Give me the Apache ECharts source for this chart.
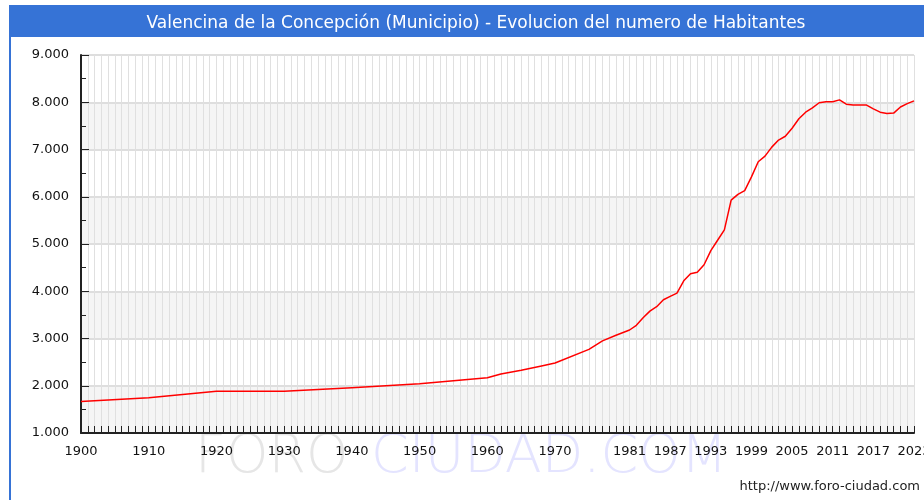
<!DOCTYPE html>
<html>
<head>
<meta charset="utf-8">
<script src="https://cdn.jsdelivr.net/npm/echarts@6/dist/echarts.min.js"></script>
<style>
html,body{margin:0;padding:0;background:#fff;}
#chart{width:924px;height:500px;}
</style>
</head>
<body>
<div id="chart"></div>
<script>
// ---- data ----
var titleText = 'Valencina de la Concepción (Municipio) - Evolucion del numero de Habitantes';
var years = [1900, 1910, 1920, 1930, 1940, 1950, 1960, 1962, 1965, 1968, 1970, 1975, 1977, 1979,
             1981, 1982, 1983, 1984, 1985, 1986, 1987, 1988, 1989, 1990, 1991, 1992, 1993, 1994, 1995,
             1996, 1997, 1998, 1999, 2000, 2001, 2002, 2003, 2004, 2005, 2006, 2007, 2008, 2009, 2010,
             2011, 2012, 2013, 2014, 2015, 2016, 2017, 2018, 2019, 2020, 2021, 2022, 2023];
var population = [1665, 1745, 1885, 1885, 1960, 2040, 2170, 2250, 2330, 2420, 2480, 2770, 2950, 3070,
             3180, 3280, 3440, 3580, 3674, 3820, 3890, 3960, 4220, 4370, 4400, 4560, 4860, 5080, 5300,
             5930, 6050, 6130, 6420, 6740, 6860, 7050, 7200, 7280, 7450, 7650, 7790, 7880, 7990, 8010,
             8010, 8050, 7960, 7940, 7940, 7940, 7860, 7790, 7760, 7770, 7900, 7970, 8030];
var xLabelYears = [1900, 1910, 1920, 1930, 1940, 1950, 1960, 1970, 1981, 1987, 1993, 1999, 2005, 2011, 2017, 2023];
var yMin = 1000, yMax = 9000, yStep = 1000;
var watermarkA = 'FORO';
var watermarkB = 'CIUDAD.COM';
var sourceText = 'http://www.foro-ciudad.com';

var seriesData = years.map(function (y, i) { return [y, population[i]]; });

function fmtThousands(v) {
  var s = String(Math.round(v));
  return s.replace(/\B(?=(\d{3})+(?!\d))/g, '.');
}

var chart = echarts.init(document.getElementById('chart'), null, {renderer: 'canvas'});
var FONT = 'DejaVu Sans';

chart.setOption({
  animation: false,
  backgroundColor: '#ffffff',
  title: {
    text: titleText,
    left: 471,
    top: 10,
    textAlign: 'center',
    textStyle: {color: '#ffffff', fontFamily: FONT, fontSize: 17, fontWeight: 'normal'}
  },
  graphic: [
    {type: 'rect', z: -10, shape: {x: 9, y: 5, width: 930, height: 32}, style: {fill: '#3673d6'}},
    {type: 'rect', z: -10, shape: {x: 9, y: 37, width: 2, height: 470}, style: {fill: '#3673d6'}},
    {type: 'text', z: -5, style: {text: watermarkA, x: 195, y: 458, fill: '#e6e6e6',
      font: '200 54px "DejaVu Sans"', textVerticalAlign: 'middle', textAlign: 'left'}},
    {type: 'text', z: -5, style: {text: watermarkB, x: 371, y: 458, fill: '#e4e4ff',
      font: '200 54px "DejaVu Sans"', textVerticalAlign: 'middle', textAlign: 'left'}},
    {type: 'text', z: 10, style: {text: sourceText, x: 920, y: 487, fill: '#222',
      font: '13px "DejaVu Sans"', textVerticalAlign: 'middle', textAlign: 'right'}}
  ],
  grid: {left: 81, right: 10, top: 55, bottom: 67, containLabel: false, outerBoundsMode: 'none'},
  xAxis: {
    type: 'value',
    min: 1900,
    max: 2023,
    interval: 1,
    axisLine: {show: true, onZero: false, lineStyle: {color: '#222', width: 2}},
    axisTick: {show: true, inside: true, length: 7, lineStyle: {color: '#222', width: 1}},
    axisLabel: {customValues: xLabelYears, color: '#111', fontFamily: FONT, fontSize: 13, margin: 12,
      hideOverlap: false, formatter: function (v) { return String(v); }},
    splitLine: {show: true, lineStyle: {color: '#e0e0e0', width: 1}}
  },
  yAxis: {
    type: 'value',
    min: yMin,
    max: yMax,
    interval: yStep,
    axisLine: {show: true, lineStyle: {color: '#222', width: 2}},
    axisTick: {show: true, inside: true, length: 8, lineStyle: {color: '#222', width: 1}},
    minorTick: {show: true, splitNumber: 2, length: 5, lineStyle: {color: '#222', width: 1}},
    axisLabel: {color: '#111', fontFamily: FONT, fontSize: 13, margin: 12, formatter: fmtThousands},
    splitLine: {show: true, lineStyle: {color: '#dedede', width: 2}},
    splitArea: {show: true, areaStyle: {color: ['#f5f5f5', 'rgba(255,255,255,0)']}}
  },
  series: [{
    type: 'line',
    data: seriesData,
    showSymbol: false,
    smooth: false,
    lineStyle: {color: '#ff0000', width: 1.5},
    z: 5
  }]
});
</script>
</body>
</html>
